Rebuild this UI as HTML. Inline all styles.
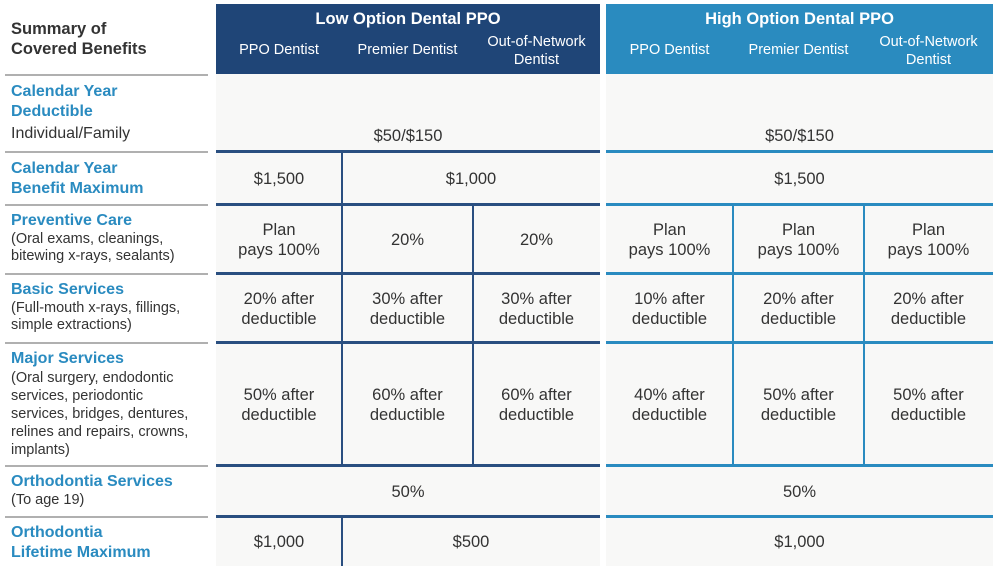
<!DOCTYPE html>
<html><head><meta charset="utf-8"><style>
body{margin:0;width:998px;height:566px;background:#fff;position:relative;overflow:hidden;font-family:"Liberation Sans",sans-serif;}
.p{position:absolute;background:#f8f8f7}
.h{position:absolute;color:#fff;text-align:center}
.c{position:absolute;display:flex;align-items:center;justify-content:center;text-align:center;font-size:16.5px;line-height:20px;color:#333}
.ln{position:absolute}
.lab{position:absolute;left:11px;color:#333;font-size:14.5px;line-height:17px}
.lab b{color:#2a8bc0;font-size:16px;line-height:20px;display:block}
.g{position:absolute;left:5px;width:203px;height:2px;background:#b0b0b0}
</style></head><body>
<div class="p" style="left:216px;top:74px;width:384px;height:492px"></div>
<div class="p" style="left:606px;top:74px;width:387px;height:492px"></div>
<div style="position:absolute;left:216px;top:4px;width:384px;height:70px;background:#1f4577"></div>
<div style="position:absolute;left:606px;top:4px;width:387px;height:70px;background:#2a8bbf"></div>
<div class="h" style="left:216px;top:10px;width:384px;font-weight:bold;font-size:16.5px">Low Option Dental PPO</div>
<div class="h" style="left:606px;top:10px;width:387px;font-weight:bold;font-size:16.5px">High Option Dental PPO</div>
<div class="h" style="left:216px;top:42px;width:126px;font-size:14.5px">PPO Dentist</div>
<div class="h" style="left:342px;top:42px;width:131px;font-size:14.5px">Premier Dentist</div>
<div class="h" style="left:473px;top:33px;width:127px;font-size:14.5px;line-height:18px">Out-of-Network<br>Dentist</div>
<div class="h" style="left:606px;top:42px;width:127px;font-size:14.5px">PPO Dentist</div>
<div class="h" style="left:733px;top:42px;width:131px;font-size:14.5px">Premier Dentist</div>
<div class="h" style="left:864px;top:33px;width:129px;font-size:14.5px;line-height:18px">Out-of-Network<br>Dentist</div>
<div style="position:absolute;left:11px;top:19px;font-weight:bold;font-size:16.5px;line-height:20px;color:#333">Summary of<br>Covered Benefits</div>

<div class="g" style="top:74px"></div>
<div class="g" style="top:151px"></div>
<div class="g" style="top:204px"></div>
<div class="g" style="top:273px"></div>
<div class="g" style="top:342px"></div>
<div class="g" style="top:465px"></div>
<div class="g" style="top:516px"></div>

<div class="lab" style="top:82px"><b>Calendar Year<br>Deductible</b><span style="font-size:16px;line-height:24px">Individual/Family</span></div>
<div class="lab" style="top:159px"><b>Calendar Year<br>Benefit Maximum</b></div>
<div class="lab" style="top:211px"><b>Preventive Care</b>(Oral exams, cleanings,<br>bitewing x-rays, sealants)</div>
<div class="lab" style="top:280px"><b>Basic Services</b>(Full-mouth x-rays, fillings,<br>simple extractions)</div>
<div class="lab" style="top:349px;line-height:18px"><b>Major Services</b>(Oral surgery, endodontic<br>services, periodontic<br>services, bridges, dentures,<br>relines and repairs, crowns,<br>implants)</div>
<div class="lab" style="top:472px"><b>Orthodontia Services</b>(To age 19)</div>
<div class="lab" style="top:523px"><b>Orthodontia<br>Lifetime Maximum</b></div>

<script>
const rows=[74,151,204,273,342,465,516,566];
const lowX=[216,342,473,600], highX=[606,733,864,993];
const lowCells=[
 [["$50/$150",3]],
 [["$1,500",1],["$1,000",2]],
 [["Plan<br>pays 100%",1],["20%",1],["20%",1]],
 [["20% after<br>deductible",1],["30% after<br>deductible",1],["30% after<br>deductible",1]],
 [["50% after<br>deductible",1],["60% after<br>deductible",1],["60% after<br>deductible",1]],
 [["50%",3]],
 [["$1,000",1],["$500",2]]
];
const highCells=[
 [["$50/$150",3]],
 [["$1,500",3]],
 [["Plan<br>pays 100%",1],["Plan<br>pays 100%",1],["Plan<br>pays 100%",1]],
 [["10% after<br>deductible",1],["20% after<br>deductible",1],["20% after<br>deductible",1]],
 [["40% after<br>deductible",1],["50% after<br>deductible",1],["50% after<br>deductible",1]],
 [["50%",3]],
 [["$1,000",3]]
];
const box=document.body;
function build(cells,xs,color,side){
 for(let r=0;r<cells.length;r++){
  let ci=0;
  const y0=rows[r]+(r>0?2:0), y1=rows[r+1];
  cells[r].forEach(([t,span],k)=>{
   const d=document.createElement('div');
   
   
   d.className='c';
   d.style.left=xs[ci]+'px';d.style.width=(xs[ci+span]-xs[ci])+'px';
   d.style.top=y0+'px';d.style.height=(y1-y0)+'px';
   if(r===0){d.style.alignItems='flex-end';d.style.height=(y1-y0-5)+'px';}
   d.innerHTML=t;box.appendChild(d);
   if(ci>0){const v=document.createElement('div');
    
    
    v.className='ln';v.style.background=color;v.style.left=(xs[ci]-1)+'px';v.style.width='2px';v.style.top=rows[r]+'px';v.style.height=(y1-rows[r])+'px';box.appendChild(v);}
   ci+=span;
  });
  if(r>0){const h=document.createElement('div');
   
   
   h.className='ln';h.style.background=color;h.style.left=xs[0]+'px';h.style.width=(xs[3]-xs[0])+'px';h.style.top=(rows[r]-1)+'px';h.style.height='3px';box.appendChild(h);}
 }
}
build(lowCells,lowX,'#2a4f80','low');
build(highCells,highX,'#2a8bc0','high');
</script>
</body></html>
